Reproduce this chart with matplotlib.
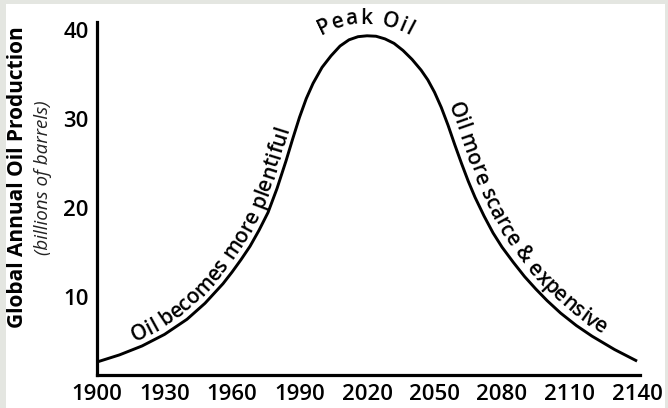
import numpy as np
import matplotlib
matplotlib.use("Agg")
import matplotlib.pyplot as plt
from matplotlib.patches import Rectangle
from matplotlib.font_manager import FontProperties, findfont
from matplotlib.ft2font import FT2Font

# Hubbert curve
years = [1900, 1910, 1920, 1930, 1940, 1948, 1956, 1960, 1964, 1968, 1972,
         1976, 1980, 1984, 1987, 1990, 1993, 1996, 2000, 2004, 2008, 2012,
         2016, 2020, 2024, 2028, 2032, 2036, 2040, 2044, 2047, 2050, 2053,
         2056, 2059, 2062, 2065, 2068, 2072, 2076, 2080, 2085, 2090, 2095,
         2100, 2106, 2113, 2120, 2130, 2140]
production = [2.7, 3.5, 4.5, 5.8, 7.5, 9.3, 11.5, 12.8, 14.2, 15.7, 17.5,
              19.5, 22.2, 25.3, 27.8, 30.2, 32.3, 34.0, 35.8, 37.1, 38.2, 38.9,
              39.25, 39.35, 39.3, 39.0, 38.5, 37.7, 36.7, 35.5, 34.4, 33.0, 31.3,
              29.3, 27.1, 25.0, 23.0, 21.2, 19.1, 17.2, 15.6, 13.9, 12.3, 10.9,
              9.6, 8.2, 6.8, 5.6, 4.1, 2.8]

x_ticks = [1900, 1930, 1960, 1990, 2020, 2050, 2080, 2110, 2140]
y_ticks = [10, 20, 30, 40]

y_label = "Global Annual Oil Production"
y_sublabel = "(billions of barrels)"
rise_text = "Oil becomes more plentiful"
fall_text = "Oil more scarce & expensive"
peak_text = "Peak Oil"

FONT = "Open Sans"
W, H = 668, 408

fig = plt.figure(figsize=(W / 100, H / 100), dpi=100)
fig.patch.set_facecolor("#e4e6e1")
fig.add_artist(Rectangle((6 / W, 0), 659 / W, (H - 4) / H, transform=fig.transFigure,
                         facecolor="white", edgecolor="none", zorder=-5))

ax = fig.add_axes([97 / W, 33 / H, 543 / W, 353 / H])
ax.patch.set_alpha(0)
ax.plot(years, production, color="black", lw=2.1, solid_joinstyle="round",
        solid_capstyle="butt", clip_on=False)
ax.set_xlim(1900, 2141.3)
ax.set_ylim(1.24, 40.9)

for side in ["top", "right"]:
    ax.spines[side].set_visible(False)
for side in ["left", "bottom"]:
    ax.spines[side].set_linewidth(2.3)
    ax.spines[side].set_capstyle("projecting")

ax.set_xticks(x_ticks)
ax.set_yticks(y_ticks)
ax.tick_params(length=0, labelsize=16)
ax.tick_params(axis="x", pad=6.5)
ax.tick_params(axis="y", pad=6)
for lab in ax.get_xticklabels() + ax.get_yticklabels():
    lab.set_fontfamily(FONT)
    lab.set_fontweight("semibold")

fig.text(18 / W, 1 - 177 / H, y_label, rotation=90, ha="center", va="center",
         family=FONT, weight="bold", size=15)
fig.text(43 / W, 1 - 178 / H, y_sublabel, rotation=90, ha="center", va="center",
         family=FONT, style="italic", size=13.5, color="#222222")

fig.canvas.draw()


def advances(text, prop):
    # glyph advance widths in pixels
    font = FT2Font(findfont(prop))
    font.set_size(prop.get_size_in_points(), 100)
    return [font.load_char(ord(ch), flags=2).linearHoriAdvance / 65536 for ch in text]


def text_on_path(path, s0, text, offset, prop, spacing=0.0):
    """Lay characters one by one along a polyline given in pixels."""
    tang = np.gradient(path, axis=0)
    tang /= np.linalg.norm(tang, axis=1)[:, None]
    normal = np.column_stack([-tang[:, 1], tang[:, 0]])
    p = path + offset * normal
    s = np.concatenate([[0], np.cumsum(np.hypot(*np.diff(p, axis=0).T))])

    def at(v):
        return np.array([np.interp(v, s, p[:, 0]), np.interp(v, s, p[:, 1])])

    adv = advances(text, prop)
    pos = s0(s, sum(adv) + spacing * (len(text) - 1))
    for ch, a in zip(text, adv):
        sc = pos + a / 2
        x, y = at(sc)
        d = at(sc + 8) - at(sc - 8)
        ang = np.degrees(np.arctan2(d[1], d[0]))
        fig.text(x / W, y / H, ch, rotation=ang, rotation_mode="anchor",
                 ha="center", va="baseline", fontproperties=prop)
        pos += a + spacing


curve_px = ax.transData.transform(np.column_stack([years, production]))
label_prop = FontProperties(family=FONT, weight="semibold", size=15)

text_on_path(curve_px, lambda s, w: np.interp(1918, years, s), rise_text, 6.5, label_prop)
text_on_path(curve_px, lambda s, w: np.interp(2053, years, s), fall_text, 6.5, label_prop)

# Peak Oil sits on its own arc above the top of the curve
peak = curve_px[int(np.argmax(production))]
R = 90
theta = np.linspace(np.radians(160), np.radians(20), 200)
arc = np.column_stack([peak[0] - 2 + R * np.cos(theta), peak[1] + 12 - R + R * np.sin(theta)])
peak_prop = FontProperties(family=FONT, weight="semibold", size=15)
text_on_path(arc, lambda s, w: (s[-1] - w) / 2, peak_text, 0, peak_prop, spacing=1.5)

fig.savefig("out.png", dpi=100, facecolor=fig.get_facecolor())
